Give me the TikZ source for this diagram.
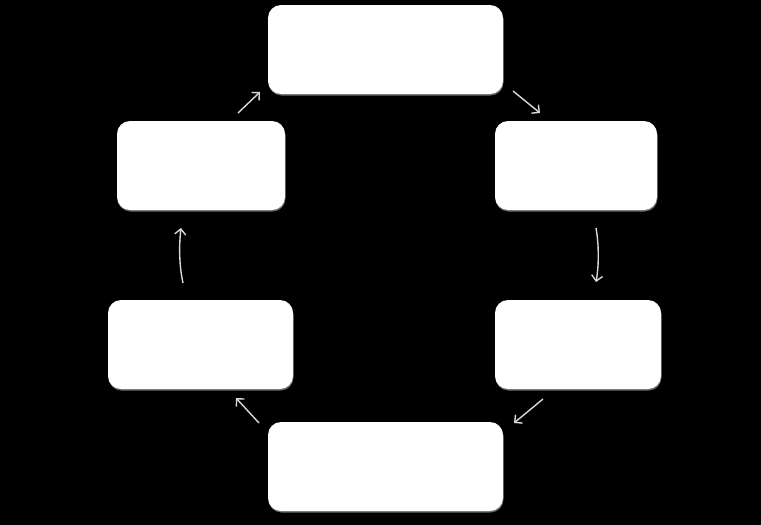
\documentclass[tikz,border=0pt]{standalone}
\usetikzlibrary{shadows,arrows.meta}
\begin{document}
\begin{tikzpicture}[x=1pt,y=-1pt,
  stage/.style={fill=white, rounded corners=13pt, inner sep=0pt, minimum height=89pt,
    drop shadow={shadow xshift=0.5pt, shadow yshift=-1.5pt, fill=gray!80, opacity=0.7}},
  flow/.style={draw=black!15, line width=1.4pt, -{Straight Barb[length=5.5pt,width=11pt]}}]


\fill[black] (0,0) rectangle (761,525);
\useasboundingbox (0,0) rectangle (761,525);


\node[stage, minimum width=235pt] (top) at (385.5, 49.5) {};
\node[stage, minimum width=168pt] (left up) at (201, 165.5) {};
\node[stage, minimum width=162pt] (right up) at (576, 165.5) {};
\node[stage, minimum width=185pt] (left down) at (200.5, 344.5) {};
\node[stage, minimum width=166pt] (right down) at (578, 344.5) {};
\node[stage, minimum width=235pt] (bottom) at (385.5, 466.5) {};


\coordinate (a1) at (238, 113);
\coordinate (b1) at (260, 92);
\coordinate (a2) at (513, 91);
\coordinate (b2) at (540, 113);
\coordinate (a3) at (596, 228);
\coordinate (b3) at (596, 282);
\coordinate (a4) at (543, 399);
\coordinate (b4) at (514, 423);
\coordinate (a5) at (259, 423);
\coordinate (b5) at (236, 398);
\coordinate (a6) at (183, 283);
\coordinate (b6) at (181, 228);


\draw[flow] (a1) -- (b1);
\draw[flow] (a2) -- (b2);
\draw[flow] (a3) .. controls (599, 245) and (599, 265) .. (b3);
\draw[flow] (a4) -- (b4);
\draw[flow] (a5) -- (b5);
\draw[flow] (a6) .. controls (179, 265) and (179, 245) .. (b6);


\end{tikzpicture}
\end{document}
